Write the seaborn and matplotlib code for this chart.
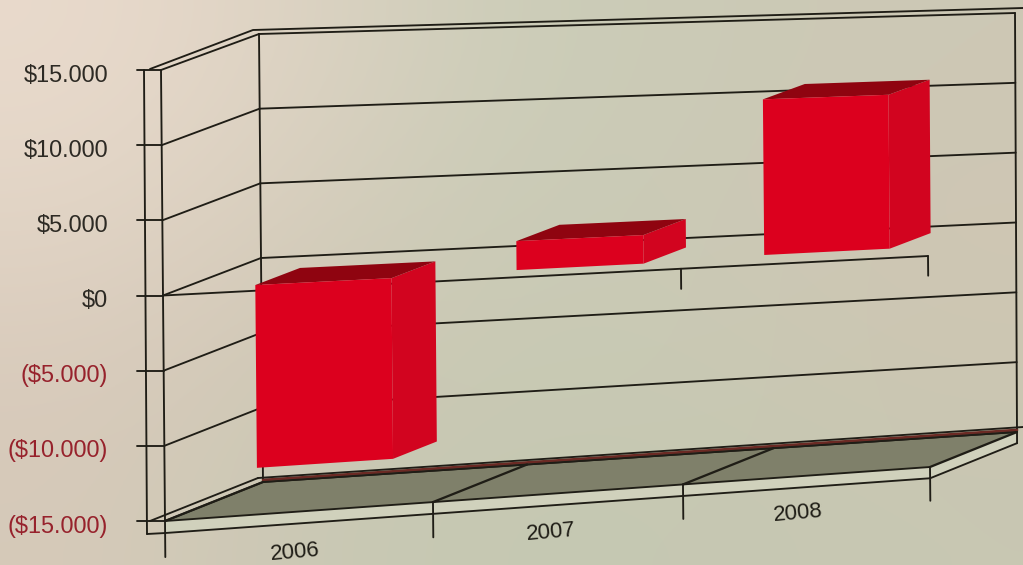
import numpy as np
import matplotlib
matplotlib.use("Agg")
import matplotlib.pyplot as plt
from matplotlib.colors import to_rgb
from matplotlib.transforms import Transform
import seaborn as sns

# ---- data ----
years = ["2006", "2007", "2008"]
value_low = [-12450, -80, 100]
value_high = [-200, 1900, 11000]
axis_ticks = [15000, 10000, 5000, 0, -5000, -10000, -15000]
axis_labels = ["$15.000", "$10.000", "$5.000", "$0", "($5.000)", "($10.000)", "($15.000)"]

VMIN, VMAX = -15000, 15000
W, H = 1023, 565
FRONT_D, BACK_D = 0.27, 0.73      # depth extent of the bars
BAR_WIDTH = 0.51

# the photographed box: (x, y) at front/back, left/right, top/bottom
FLT, FLB = (161, 70), (165, 521)
BLT, BLB = (259, 34), (263, 482)
BRT, BRB = (1015, 13), (1017, 432)
FRT, FRB = (926, 45), (930, 467)
CAT_C = [0, 0.5, 1, 1.5, 2, 2.5, 3]
CAT_U = [0, 0.1762, 0.3503, 0.5111, 0.6771, 0.8340, 1]
YEAR_DY = [11, 10, 9]


def project(c, v, d):
    """Category coordinate, value and depth to picture pixels."""
    c, v, d = np.asarray(c, float), np.asarray(v, float), np.asarray(d, float)
    u = np.interp(c, CAT_C, CAT_U)
    t = (VMAX - v) / (VMAX - VMIN)
    out = []
    for k in (0, 1):
        fl = FLT[k] + (FLB[k] - FLT[k]) * t
        fr = FRT[k] + (FRB[k] - FRT[k]) * t
        bl = BLT[k] + (BLB[k] - BLT[k]) * t
        br = BRT[k] + (BRB[k] - BRT[k]) * t
        front = fl + (fr - fl) * u
        back = bl + (br - bl) * u
        out.append(front + (back - front) * d)
    return out[0], out[1]


class Projected(Transform):
    input_dims = output_dims = 2
    is_separable = False
    has_inverse = False

    def __init__(self, bar_depth):
        super().__init__()
        self.bar_depth = bar_depth

    def transform_non_affine(self, values):
        values = np.asarray(values, float)
        x, y = project(values[:, 0] + 0.5, values[:, 1], self.bar_depth)
        return np.column_stack([x, y])


sns.set_theme(style="white")
plt.rcParams["font.family"] = ["Liberation Sans", "DejaVu Sans"]

fig = plt.figure(figsize=(W / 100, H / 100), dpi=100)
ax = fig.add_axes([0, 0, 1, 1])
bar_ax = fig.add_axes([0, 0, 1, 1], zorder=3)
bar_ax.patch.set_alpha(0)

# faded photographic background
bg_hex = [["#E9DACC", "#DCD2C2", "#CBCDB8", "#CBCAB6", "#CDC8B5"],
          ["#E2D5C6", "#D6CDBC", "#C9CBB6", "#CCC9B6", "#CFC6B4"],
          ["#DACCBD", "#CFC7B5", "#C8CAB4", "#C9C9B4", "#CDC6B2"],
          ["#D6C9B9", "#C9C9B4", "#C5C8B2", "#C6C8B2", "#C8C7B2"]]
bg = np.array([[to_rgb(h) for h in row] for row in bg_hex])
ax.imshow(bg, extent=(0, W, H, 0), aspect="auto", interpolation="bicubic", zorder=0)
ax.set_xlim(0, W)
ax.set_ylim(H, 0)
ax.axis("off")

LINE = "#1f1d16"
LW = 1.35


def seg(x, y, lw=LW, color=LINE, z=2):
    ax.plot(x, y, color=color, lw=lw, solid_capstyle="round", zorder=z)


def line3d(c, v, d, **kw):
    x, y = project(c, v, d)
    seg(x, y, **kw)


cats = np.array([0, 1, 2, 3], float)
end = np.array([0, 3], float)

# floor slab
sx, sy = project([0, 3, 3, 0], [VMIN] * 4, [0, 0, 1, 1])
ax.fill(sx, sy, color="#7f806a", lw=0, zorder=1)
ax.fill(*project([0, 3, 3, 0], [VMIN, VMIN, -15800, -15800], 0),
        color="#d0d1bc", lw=0, zorder=1)
ax.fill(*project([3, 3, 3, 3], [VMIN, VMIN, -15800, -15800], [0, 1, 1, 0]),
        color="#d0d1bc", lw=0, zorder=1)

# back wall and side wall grid
for v in axis_ticks:
    line3d(end, [v, v], [1, 1])
    line3d([0, 0], [v, v], [0, 1])
line3d([0, 0], [VMIN, VMAX], [1, 1])
line3d([3, 3], [VMIN, VMAX], [1, 1])
line3d([0, 0], [VMIN, VMAX], [0, 0])

# outer wall edge, top
ax.plot([150, 253, 1023], [69, 30, 8], color=LINE, lw=LW, zorder=2)
# outer left axis and value ticks
seg([144, 147], [70, 534])
for v in axis_ticks:
    x, y = project(0, v, 0)
    seg([137, x], [y, y])

# floor edges and dividers
line3d(end, [VMIN, VMIN], [0, 0])
ax.plot([263, 1017], [480, 430], color="#6b2a24", lw=2.0, zorder=2)
line3d(end, [VMIN, VMIN], [1, 1])
ax.plot([258, 1023], [478, 427], color=LINE, lw=LW, zorder=2)
ax.plot([150, 258], [521, 478], color=LINE, lw=LW, zorder=2)
for c in cats:
    line3d([c, c], [VMIN, VMIN], [0, 1], lw=LW + 0.3)
for c in cats:
    line3d([c, c], [VMIN, -17400], [0, 0])
line3d(end, [-15800, -15800], [0, 0])
seg([147, project(0, -15800, 0)[0]], [534, project(0, -15800, 0)[1]])
line3d([3, 3], [-15800, -15800], [0, 1])
line3d([3, 3], [VMIN, -15800], [1, 1])

# zero category axis with its ticks
line3d([0, 3], [0, 0], [0, 0])
for c in (2, 3):
    line3d([c, c], [0, -1400], [0, 0])

# value and category labels
for v, label in zip(axis_ticks, axis_labels):
    _, y = project(0, v, 0)
    ax.text(108, y + 5, label, ha="right", va="center", fontsize=16.9,
            color="#2d2a24" if v >= 0 else "#97222c", zorder=4)
for i, year in enumerate(years):
    x, y = project(i + 0.5, -17000, 0)
    ax.text(x - 5, y + YEAR_DY[i], year, ha="center", va="center", fontsize=16,
            rotation=5, rotation_mode="anchor", color="#1f1d16", zorder=4)

# bars: side and top faces from the same values
for i, (lo, hi) in enumerate(zip(value_low, value_high)):
    c0, c1 = i + 0.5 - BAR_WIDTH / 2, i + 0.5 + BAR_WIDTH / 2
    rx, ry = project([c1, c1, c1, c1], [lo, hi, hi, lo],
                     [FRONT_D, FRONT_D, BACK_D, BACK_D])
    ax.fill(rx, ry, color="#d2041f", lw=0, zorder=3)
    qx, qy = project([c0, c1, c1, c0], [hi, hi, hi, hi],
                     [FRONT_D, FRONT_D, BACK_D, BACK_D])
    ax.fill(qx, qy, color="#8f0410", lw=0, zorder=3)

# bars: front faces, drawn by seaborn and carried into the picture's perspective
sns.barplot(x=years, y=np.array(value_high) - np.array(value_low),
            bottom=value_low, width=BAR_WIDTH, color="#dc001e", saturation=1,
            edgecolor="none", linewidth=0, ax=bar_ax)
front = Projected(FRONT_D) + ax.transData
for patch in bar_ax.patches:
    patch.set_transform(front)
    patch.set_clip_on(False)
bar_ax.axis("off")

fig.savefig("out.png", dpi=100)
